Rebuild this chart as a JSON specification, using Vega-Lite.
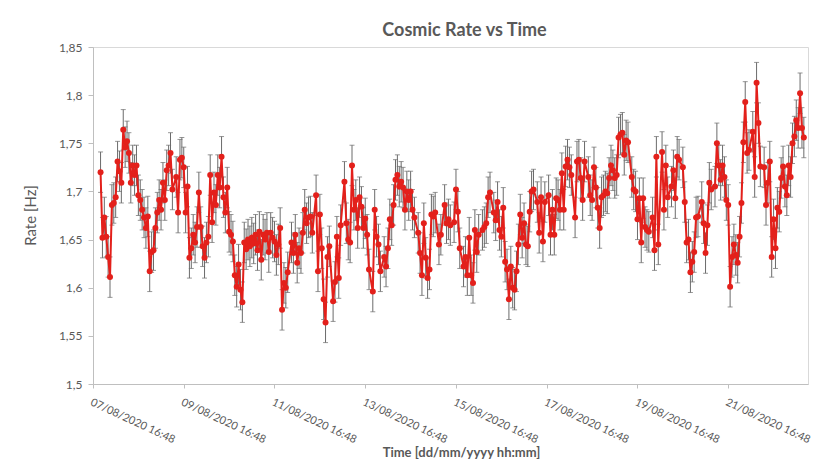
{
"$schema": "https://vega.github.io/schema/vega-lite/v6.json",
"width": 715, "height": 337,
"autosize": {"type": "none"},
"padding": {"left": 93, "top": 47, "right": 17, "bottom": 82},
"background": "white",
"title": {"text": "Cosmic Rate vs Time", "font": "Lato", "fontSize": 18, "fontWeight": "bold", "color": "#595959", "anchor": "middle", "dx": 14, "dy": 24, "offset": 11, "baseline": "alphabetic"},
"config": {"view": {"stroke": "#d9d9d9", "strokeWidth": 1}, "font": "Lato"},
"data": {"values": [
{"t":"2020-08-07T20:48","r":1.720,"e":0.021},{"t":"2020-08-07T21:48","r":1.652,"e":0.021},{"t":"2020-08-07T22:48","r":1.673,"e":0.021},{"t":"2020-08-07T23:48","r":1.653,"e":0.021},
{"t":"2020-08-08T00:48","r":1.632,"e":0.021},{"t":"2020-08-08T01:48","r":1.611,"e":0.021},{"t":"2020-08-08T02:48","r":1.686,"e":0.021},{"t":"2020-08-08T03:48","r":1.688,"e":0.021},{"t":"2020-08-08T04:48","r":1.694,"e":0.021},{"t":"2020-08-08T05:48","r":1.731,"e":0.021},{"t":"2020-08-08T06:48","r":1.721,"e":0.021},{"t":"2020-08-08T07:48","r":1.709,"e":0.021},{"t":"2020-08-08T08:48","r":1.764,"e":0.021},{"t":"2020-08-08T09:48","r":1.746,"e":0.021},{"t":"2020-08-08T10:48","r":1.752,"e":0.021},{"t":"2020-08-08T11:48","r":1.740,"e":0.021},{"t":"2020-08-08T12:48","r":1.709,"e":0.021},{"t":"2020-08-08T13:48","r":1.727,"e":0.021},{"t":"2020-08-08T14:48","r":1.717,"e":0.021},{"t":"2020-08-08T15:48","r":1.727,"e":0.021},{"t":"2020-08-08T16:48","r":1.696,"e":0.021},{"t":"2020-08-08T17:48","r":1.691,"e":0.021},{"t":"2020-08-08T18:48","r":1.681,"e":0.021},{"t":"2020-08-08T19:48","r":1.673,"e":0.021},{"t":"2020-08-08T20:48","r":1.662,"e":0.021},{"t":"2020-08-08T21:48","r":1.674,"e":0.021},{"t":"2020-08-08T22:48","r":1.617,"e":0.021},{"t":"2020-08-08T23:48","r":1.637,"e":0.021},
{"t":"2020-08-09T00:48","r":1.639,"e":0.021},{"t":"2020-08-09T01:48","r":1.662,"e":0.021},{"t":"2020-08-09T02:48","r":1.678,"e":0.021},{"t":"2020-08-09T03:48","r":1.691,"e":0.021},{"t":"2020-08-09T04:48","r":1.681,"e":0.021},{"t":"2020-08-09T05:48","r":1.709,"e":0.021},{"t":"2020-08-09T06:48","r":1.691,"e":0.021},{"t":"2020-08-09T07:48","r":1.722,"e":0.021},{"t":"2020-08-09T08:48","r":1.727,"e":0.021},{"t":"2020-08-09T09:48","r":1.740,"e":0.021},{"t":"2020-08-09T10:48","r":1.702,"e":0.021},{"t":"2020-08-09T12:48","r":1.715,"e":0.021},{"t":"2020-08-09T13:48","r":1.678,"e":0.021},{"t":"2020-08-09T14:48","r":1.733,"e":0.021},{"t":"2020-08-09T15:48","r":1.735,"e":0.021},{"t":"2020-08-09T16:48","r":1.725,"e":0.021},{"t":"2020-08-09T17:48","r":1.678,"e":0.021},{"t":"2020-08-09T18:48","r":1.705,"e":0.021},{"t":"2020-08-09T19:48","r":1.631,"e":0.021},{"t":"2020-08-09T20:48","r":1.641,"e":0.021},{"t":"2020-08-09T21:48","r":1.655,"e":0.021},{"t":"2020-08-09T22:48","r":1.647,"e":0.021},{"t":"2020-08-09T23:48","r":1.663,"e":0.021},
{"t":"2020-08-10T00:48","r":1.699,"e":0.021},{"t":"2020-08-10T01:48","r":1.663,"e":0.021},{"t":"2020-08-10T02:48","r":1.643,"e":0.021},{"t":"2020-08-10T03:48","r":1.631,"e":0.021},{"t":"2020-08-10T04:48","r":1.647,"e":0.021},{"t":"2020-08-10T05:48","r":1.653,"e":0.021},{"t":"2020-08-10T06:48","r":1.717,"e":0.021},{"t":"2020-08-10T07:48","r":1.668,"e":0.021},{"t":"2020-08-10T08:48","r":1.699,"e":0.021},{"t":"2020-08-10T09:48","r":1.686,"e":0.021},{"t":"2020-08-10T10:48","r":1.717,"e":0.021},{"t":"2020-08-10T11:48","r":1.704,"e":0.021},{"t":"2020-08-10T12:48","r":1.736,"e":0.021},{"t":"2020-08-10T13:48","r":1.694,"e":0.021},{"t":"2020-08-10T14:48","r":1.678,"e":0.021},{"t":"2020-08-10T15:48","r":1.704,"e":0.021},{"t":"2020-08-10T16:48","r":1.658,"e":0.021},{"t":"2020-08-10T17:48","r":1.655,"e":0.021},{"t":"2020-08-10T18:48","r":1.648,"e":0.021},{"t":"2020-08-10T19:48","r":1.613,"e":0.021},{"t":"2020-08-10T20:48","r":1.601,"e":0.021},{"t":"2020-08-10T21:48","r":1.624,"e":0.021},{"t":"2020-08-10T22:48","r":1.598,"e":0.021},{"t":"2020-08-10T23:48","r":1.585,"e":0.021},
{"t":"2020-08-11T00:48","r":1.647,"e":0.021},{"t":"2020-08-11T01:48","r":1.640,"e":0.021},{"t":"2020-08-11T02:48","r":1.650,"e":0.021},{"t":"2020-08-11T03:48","r":1.643,"e":0.021},{"t":"2020-08-11T04:48","r":1.652,"e":0.021},{"t":"2020-08-11T05:48","r":1.646,"e":0.021},{"t":"2020-08-11T06:48","r":1.655,"e":0.021},{"t":"2020-08-11T07:48","r":1.639,"e":0.021},{"t":"2020-08-11T08:48","r":1.658,"e":0.021},{"t":"2020-08-11T09:48","r":1.629,"e":0.021},{"t":"2020-08-11T10:48","r":1.655,"e":0.021},{"t":"2020-08-11T11:48","r":1.650,"e":0.021},{"t":"2020-08-11T12:48","r":1.657,"e":0.021},{"t":"2020-08-11T13:48","r":1.637,"e":0.021},{"t":"2020-08-11T14:48","r":1.657,"e":0.021},{"t":"2020-08-11T15:48","r":1.652,"e":0.021},{"t":"2020-08-11T16:48","r":1.648,"e":0.021},{"t":"2020-08-11T17:48","r":1.634,"e":0.021},{"t":"2020-08-11T18:48","r":1.645,"e":0.021},{"t":"2020-08-11T19:48","r":1.662,"e":0.021},{"t":"2020-08-11T20:48","r":1.577,"e":0.021},{"t":"2020-08-11T21:48","r":1.605,"e":0.021},{"t":"2020-08-11T22:48","r":1.600,"e":0.021},{"t":"2020-08-11T23:48","r":1.616,"e":0.021},
{"t":"2020-08-12T01:48","r":1.647,"e":0.021},{"t":"2020-08-12T02:48","r":1.636,"e":0.021},{"t":"2020-08-12T03:48","r":1.655,"e":0.021},{"t":"2020-08-12T04:48","r":1.626,"e":0.021},{"t":"2020-08-12T05:48","r":1.641,"e":0.021},{"t":"2020-08-12T06:48","r":1.636,"e":0.021},{"t":"2020-08-12T07:48","r":1.657,"e":0.021},{"t":"2020-08-12T08:48","r":1.681,"e":0.021},{"t":"2020-08-12T09:48","r":1.667,"e":0.021},{"t":"2020-08-12T10:48","r":1.673,"e":0.021},{"t":"2020-08-12T11:48","r":1.674,"e":0.021},{"t":"2020-08-12T12:48","r":1.657,"e":0.021},{"t":"2020-08-12T14:48","r":1.696,"e":0.021},{"t":"2020-08-12T15:48","r":1.617,"e":0.021},{"t":"2020-08-12T16:48","r":1.676,"e":0.021},{"t":"2020-08-12T17:48","r":1.641,"e":0.021},{"t":"2020-08-12T18:48","r":1.588,"e":0.021},{"t":"2020-08-12T19:48","r":1.564,"e":0.021},{"t":"2020-08-12T20:48","r":1.632,"e":0.021},{"t":"2020-08-12T21:48","r":1.643,"e":0.021},{"t":"2020-08-12T23:48","r":1.586,"e":0.021},
{"t":"2020-08-13T00:48","r":1.606,"e":0.021},{"t":"2020-08-13T01:48","r":1.653,"e":0.021},{"t":"2020-08-13T02:48","r":1.610,"e":0.021},{"t":"2020-08-13T03:48","r":1.665,"e":0.021},{"t":"2020-08-13T05:48","r":1.710,"e":0.021},{"t":"2020-08-13T06:48","r":1.667,"e":0.021},{"t":"2020-08-13T07:48","r":1.650,"e":0.021},{"t":"2020-08-13T08:48","r":1.647,"e":0.021},{"t":"2020-08-13T09:48","r":1.727,"e":0.021},{"t":"2020-08-13T10:48","r":1.681,"e":0.021},{"t":"2020-08-13T11:48","r":1.691,"e":0.021},{"t":"2020-08-13T12:48","r":1.662,"e":0.021},{"t":"2020-08-13T13:48","r":1.694,"e":0.021},{"t":"2020-08-13T14:48","r":1.684,"e":0.021},{"t":"2020-08-13T15:48","r":1.662,"e":0.021},{"t":"2020-08-13T16:48","r":1.672,"e":0.021},{"t":"2020-08-13T17:48","r":1.655,"e":0.021},{"t":"2020-08-13T18:48","r":1.619,"e":0.021},{"t":"2020-08-13T20:48","r":1.596,"e":0.021},{"t":"2020-08-13T21:48","r":1.681,"e":0.021},{"t":"2020-08-13T22:48","r":1.653,"e":0.021},{"t":"2020-08-13T23:48","r":1.645,"e":0.021},
{"t":"2020-08-14T00:48","r":1.617,"e":0.021},{"t":"2020-08-14T02:48","r":1.632,"e":0.021},{"t":"2020-08-14T03:48","r":1.622,"e":0.021},{"t":"2020-08-14T04:48","r":1.641,"e":0.021},{"t":"2020-08-14T05:48","r":1.671,"e":0.021},{"t":"2020-08-14T06:48","r":1.665,"e":0.021},{"t":"2020-08-14T07:48","r":1.686,"e":0.021},{"t":"2020-08-14T08:48","r":1.712,"e":0.021},{"t":"2020-08-14T09:48","r":1.717,"e":0.021},{"t":"2020-08-14T10:48","r":1.705,"e":0.021},{"t":"2020-08-14T11:48","r":1.710,"e":0.021},{"t":"2020-08-14T12:48","r":1.704,"e":0.021},{"t":"2020-08-14T13:48","r":1.681,"e":0.021},{"t":"2020-08-14T14:48","r":1.700,"e":0.021},{"t":"2020-08-14T15:48","r":1.691,"e":0.021},{"t":"2020-08-14T16:48","r":1.700,"e":0.021},{"t":"2020-08-14T17:48","r":1.681,"e":0.021},{"t":"2020-08-14T18:48","r":1.673,"e":0.021},{"t":"2020-08-14T20:48","r":1.657,"e":0.021},{"t":"2020-08-14T21:48","r":1.636,"e":0.021},{"t":"2020-08-14T22:48","r":1.613,"e":0.021},{"t":"2020-08-14T23:48","r":1.667,"e":0.021},
{"t":"2020-08-15T00:48","r":1.631,"e":0.021},{"t":"2020-08-15T01:48","r":1.610,"e":0.021},{"t":"2020-08-15T02:48","r":1.619,"e":0.021},{"t":"2020-08-15T03:48","r":1.676,"e":0.021},{"t":"2020-08-15T04:48","r":1.674,"e":0.021},{"t":"2020-08-15T05:48","r":1.678,"e":0.021},{"t":"2020-08-15T07:48","r":1.645,"e":0.021},{"t":"2020-08-15T08:48","r":1.655,"e":0.021},{"t":"2020-08-15T10:48","r":1.686,"e":0.021},{"t":"2020-08-15T11:48","r":1.667,"e":0.021},{"t":"2020-08-15T12:48","r":1.671,"e":0.021},{"t":"2020-08-15T13:48","r":1.665,"e":0.021},{"t":"2020-08-15T15:48","r":1.668,"e":0.021},{"t":"2020-08-15T16:48","r":1.702,"e":0.021},{"t":"2020-08-15T17:48","r":1.679,"e":0.021},{"t":"2020-08-15T18:48","r":1.641,"e":0.021},{"t":"2020-08-15T20:48","r":1.622,"e":0.021},{"t":"2020-08-15T21:48","r":1.632,"e":0.021},{"t":"2020-08-15T22:48","r":1.613,"e":0.021},{"t":"2020-08-15T23:48","r":1.652,"e":0.021},
{"t":"2020-08-16T00:48","r":1.613,"e":0.021},{"t":"2020-08-16T01:48","r":1.605,"e":0.021},{"t":"2020-08-16T02:48","r":1.660,"e":0.021},{"t":"2020-08-16T03:48","r":1.637,"e":0.021},{"t":"2020-08-16T04:48","r":1.655,"e":0.021},{"t":"2020-08-16T06:48","r":1.660,"e":0.021},{"t":"2020-08-16T07:48","r":1.663,"e":0.021},{"t":"2020-08-16T08:48","r":1.667,"e":0.021},{"t":"2020-08-16T09:48","r":1.694,"e":0.021},{"t":"2020-08-16T10:48","r":1.699,"e":0.021},{"t":"2020-08-16T12:48","r":1.678,"e":0.021},{"t":"2020-08-16T13:48","r":1.670,"e":0.021},{"t":"2020-08-16T14:48","r":1.689,"e":0.021},{"t":"2020-08-16T15:48","r":1.660,"e":0.021},{"t":"2020-08-16T16:48","r":1.653,"e":0.021},{"t":"2020-08-16T17:48","r":1.683,"e":0.021},{"t":"2020-08-16T18:48","r":1.627,"e":0.021},{"t":"2020-08-16T19:48","r":1.619,"e":0.021},{"t":"2020-08-16T20:48","r":1.588,"e":0.021},{"t":"2020-08-16T21:48","r":1.622,"e":0.021},{"t":"2020-08-16T22:48","r":1.600,"e":0.021},{"t":"2020-08-16T23:48","r":1.598,"e":0.021},
{"t":"2020-08-17T00:48","r":1.617,"e":0.021},{"t":"2020-08-17T01:48","r":1.645,"e":0.021},{"t":"2020-08-17T02:48","r":1.676,"e":0.021},{"t":"2020-08-17T03:48","r":1.652,"e":0.021},{"t":"2020-08-17T04:48","r":1.667,"e":0.021},{"t":"2020-08-17T05:48","r":1.645,"e":0.021},{"t":"2020-08-17T06:48","r":1.643,"e":0.021},{"t":"2020-08-17T07:48","r":1.679,"e":0.021},{"t":"2020-08-17T08:48","r":1.700,"e":0.021},{"t":"2020-08-17T09:48","r":1.702,"e":0.021},{"t":"2020-08-17T11:48","r":1.689,"e":0.021},{"t":"2020-08-17T12:48","r":1.657,"e":0.021},{"t":"2020-08-17T13:48","r":1.694,"e":0.021},{"t":"2020-08-17T14:48","r":1.648,"e":0.021},{"t":"2020-08-17T15:48","r":1.689,"e":0.021},{"t":"2020-08-17T17:48","r":1.696,"e":0.021},{"t":"2020-08-17T18:48","r":1.655,"e":0.021},{"t":"2020-08-17T19:48","r":1.681,"e":0.021},{"t":"2020-08-17T20:48","r":1.655,"e":0.021},{"t":"2020-08-17T21:48","r":1.693,"e":0.021},{"t":"2020-08-17T22:48","r":1.691,"e":0.021},{"t":"2020-08-17T23:48","r":1.681,"e":0.021},
{"t":"2020-08-18T00:48","r":1.719,"e":0.021},{"t":"2020-08-18T01:48","r":1.681,"e":0.021},{"t":"2020-08-18T02:48","r":1.726,"e":0.021},{"t":"2020-08-18T03:48","r":1.733,"e":0.021},{"t":"2020-08-18T04:48","r":1.725,"e":0.021},{"t":"2020-08-18T05:48","r":1.717,"e":0.021},{"t":"2020-08-18T07:48","r":1.673,"e":0.021},{"t":"2020-08-18T08:48","r":1.731,"e":0.021},{"t":"2020-08-18T09:48","r":1.733,"e":0.021},{"t":"2020-08-18T10:48","r":1.714,"e":0.021},{"t":"2020-08-18T11:48","r":1.691,"e":0.021},{"t":"2020-08-18T12:48","r":1.731,"e":0.021},{"t":"2020-08-18T14:48","r":1.715,"e":0.021},{"t":"2020-08-18T15:48","r":1.696,"e":0.021},{"t":"2020-08-18T16:48","r":1.691,"e":0.021},{"t":"2020-08-18T17:48","r":1.725,"e":0.021},{"t":"2020-08-18T18:48","r":1.704,"e":0.021},{"t":"2020-08-18T19:48","r":1.683,"e":0.021},{"t":"2020-08-18T20:48","r":1.662,"e":0.021},{"t":"2020-08-18T21:48","r":1.694,"e":0.021},{"t":"2020-08-18T22:48","r":1.696,"e":0.021},{"t":"2020-08-18T23:48","r":1.700,"e":0.021},
{"t":"2020-08-19T00:48","r":1.698,"e":0.021},{"t":"2020-08-19T01:48","r":1.714,"e":0.021},{"t":"2020-08-19T02:48","r":1.727,"e":0.021},{"t":"2020-08-19T03:48","r":1.722,"e":0.021},{"t":"2020-08-19T04:48","r":1.714,"e":0.021},{"t":"2020-08-19T05:48","r":1.717,"e":0.021},{"t":"2020-08-19T06:48","r":1.756,"e":0.021},{"t":"2020-08-19T07:48","r":1.759,"e":0.021},{"t":"2020-08-19T08:48","r":1.761,"e":0.021},{"t":"2020-08-19T09:48","r":1.738,"e":0.021},{"t":"2020-08-19T10:48","r":1.753,"e":0.021},{"t":"2020-08-19T11:48","r":1.751,"e":0.021},{"t":"2020-08-19T13:48","r":1.715,"e":0.021},{"t":"2020-08-19T14:48","r":1.702,"e":0.021},{"t":"2020-08-19T15:48","r":1.700,"e":0.021},{"t":"2020-08-19T16:48","r":1.671,"e":0.021},{"t":"2020-08-19T17:48","r":1.693,"e":0.021},{"t":"2020-08-19T18:48","r":1.647,"e":0.021},{"t":"2020-08-19T19:48","r":1.693,"e":0.021},{"t":"2020-08-19T20:48","r":1.663,"e":0.021},{"t":"2020-08-19T21:48","r":1.660,"e":0.021},{"t":"2020-08-19T22:48","r":1.658,"e":0.021},
{"t":"2020-08-20T00:48","r":1.673,"e":0.021},{"t":"2020-08-20T01:48","r":1.639,"e":0.021},{"t":"2020-08-20T02:48","r":1.736,"e":0.021},{"t":"2020-08-20T03:48","r":1.645,"e":0.021},{"t":"2020-08-20T05:48","r":1.741,"e":0.021},{"t":"2020-08-20T06:48","r":1.681,"e":0.021},{"t":"2020-08-20T07:48","r":1.727,"e":0.021},{"t":"2020-08-20T08:48","r":1.694,"e":0.021},{"t":"2020-08-20T10:48","r":1.705,"e":0.021},{"t":"2020-08-20T11:48","r":1.722,"e":0.021},{"t":"2020-08-20T12:48","r":1.693,"e":0.021},{"t":"2020-08-20T13:48","r":1.736,"e":0.021},{"t":"2020-08-20T14:48","r":1.733,"e":0.021},{"t":"2020-08-20T16:48","r":1.725,"e":0.021},{"t":"2020-08-20T17:48","r":1.689,"e":0.021},{"t":"2020-08-20T18:48","r":1.647,"e":0.021},{"t":"2020-08-20T19:48","r":1.650,"e":0.021},{"t":"2020-08-20T20:48","r":1.616,"e":0.021},{"t":"2020-08-20T21:48","r":1.627,"e":0.021},{"t":"2020-08-20T22:48","r":1.637,"e":0.021},{"t":"2020-08-20T23:48","r":1.673,"e":0.021},
{"t":"2020-08-21T00:48","r":1.674,"e":0.021},{"t":"2020-08-21T02:48","r":1.689,"e":0.021},{"t":"2020-08-21T03:48","r":1.667,"e":0.021},{"t":"2020-08-21T04:48","r":1.636,"e":0.021},{"t":"2020-08-21T05:48","r":1.665,"e":0.021},{"t":"2020-08-21T06:48","r":1.709,"e":0.021},{"t":"2020-08-21T07:48","r":1.702,"e":0.021},{"t":"2020-08-21T09:48","r":1.705,"e":0.021},{"t":"2020-08-21T10:48","r":1.750,"e":0.021},{"t":"2020-08-21T11:48","r":1.727,"e":0.021},{"t":"2020-08-21T12:48","r":1.712,"e":0.021},{"t":"2020-08-21T13:48","r":1.727,"e":0.021},{"t":"2020-08-21T14:48","r":1.715,"e":0.021},{"t":"2020-08-21T15:48","r":1.691,"e":0.021},{"t":"2020-08-21T16:48","r":1.686,"e":0.021},{"t":"2020-08-21T17:48","r":1.601,"e":0.021},{"t":"2020-08-21T18:48","r":1.632,"e":0.021},{"t":"2020-08-21T19:48","r":1.645,"e":0.021},{"t":"2020-08-21T20:48","r":1.634,"e":0.021},{"t":"2020-08-21T21:48","r":1.626,"e":0.021},{"t":"2020-08-21T22:48","r":1.653,"e":0.021},{"t":"2020-08-21T23:48","r":1.688,"e":0.021},
{"t":"2020-08-22T00:48","r":1.751,"e":0.021},{"t":"2020-08-22T01:48","r":1.793,"e":0.021},{"t":"2020-08-22T02:48","r":1.740,"e":0.021},{"t":"2020-08-22T03:48","r":1.743,"e":0.021},{"t":"2020-08-22T05:48","r":1.762,"e":0.021},{"t":"2020-08-22T06:48","r":1.715,"e":0.021},{"t":"2020-08-22T07:48","r":1.813,"e":0.021},{"t":"2020-08-22T08:48","r":1.771,"e":0.021},{"t":"2020-08-22T09:48","r":1.726,"e":0.021},{"t":"2020-08-22T11:48","r":1.725,"e":0.021},{"t":"2020-08-22T12:48","r":1.686,"e":0.021},{"t":"2020-08-22T13:48","r":1.709,"e":0.021},{"t":"2020-08-22T14:48","r":1.731,"e":0.021},{"t":"2020-08-22T15:48","r":1.632,"e":0.021},{"t":"2020-08-22T16:48","r":1.671,"e":0.021},{"t":"2020-08-22T17:48","r":1.641,"e":0.021},{"t":"2020-08-22T18:48","r":1.683,"e":0.021},{"t":"2020-08-22T19:48","r":1.679,"e":0.021},{"t":"2020-08-22T20:48","r":1.714,"e":0.021},{"t":"2020-08-22T21:48","r":1.726,"e":0.021},{"t":"2020-08-22T22:48","r":1.705,"e":0.021},{"t":"2020-08-22T23:48","r":1.696,"e":0.021},
{"t":"2020-08-23T00:48","r":1.727,"e":0.021},{"t":"2020-08-23T01:48","r":1.715,"e":0.021},{"t":"2020-08-23T02:48","r":1.750,"e":0.021},{"t":"2020-08-23T03:48","r":1.757,"e":0.021},{"t":"2020-08-23T04:48","r":1.774,"e":0.021},{"t":"2020-08-23T05:48","r":1.766,"e":0.021},{"t":"2020-08-23T06:48","r":1.802,"e":0.021},{"t":"2020-08-23T07:48","r":1.766,"e":0.021},{"t":"2020-08-23T08:48","r":1.756,"e":0.021}
]},
"encoding": {
  "x": {"field": "t", "type": "temporal",
    "scale": {"domain": [{"year": 2020, "month": 8, "date": 7, "hours": 16, "minutes": 48}, {"year": 2020, "month": 8, "date": 23, "hours": 11, "minutes": 0}], "nice": false},
    "axis": {"values": [
      {"year": 2020, "month": 8, "date": 7, "hours": 16, "minutes": 48},
      {"year": 2020, "month": 8, "date": 9, "hours": 16, "minutes": 48},
      {"year": 2020, "month": 8, "date": 11, "hours": 16, "minutes": 48},
      {"year": 2020, "month": 8, "date": 13, "hours": 16, "minutes": 48},
      {"year": 2020, "month": 8, "date": 15, "hours": 16, "minutes": 48},
      {"year": 2020, "month": 8, "date": 17, "hours": 16, "minutes": 48},
      {"year": 2020, "month": 8, "date": 19, "hours": 16, "minutes": 48},
      {"year": 2020, "month": 8, "date": 21, "hours": 16, "minutes": 48}],
      "format": "%d/%m/%Y %H:%M", "labelAngle": 25, "labelAlign": "left", "labelBaseline": "top",
      "labelFont": "Lato", "labelFontSize": 11, "labelColor": "#595959", "labelPadding": 8,
      "labelOverlap": false, "labelFlush": false, "labelBound": false, "grid": false,
      "domainColor": "#bfbfbf", "tickColor": "#bfbfbf", "tickSize": 4,
      "title": "Time [dd/mm/yyyy hh:mm]", "titleFont": "Lato", "titleFontSize": 13, "titleFontWeight": "bold",
      "titleColor": "#595959", "titleX": 368, "titleY": 68, "titleAlign": "center", "titleBaseline": "middle"}},
  "y": {"field": "r", "type": "quantitative",
    "scale": {"domain": [1.5, 1.85], "nice": false, "zero": false},
    "axis": {"values": [1.5, 1.55, 1.6, 1.65, 1.7, 1.75, 1.8, 1.85],
      "labelExpr": "replace(format(datum.value, '.2~f'), '.', ',')",
      "labelFont": "Lato", "labelFontSize": 12, "labelColor": "#595959", "labelPadding": 6,
      "grid": false, "domainColor": "#bfbfbf", "tickColor": "#bfbfbf", "tickSize": 5,
      "title": "Rate [Hz]", "titleFont": "Lato", "titleFontSize": 15, "titleFontWeight": "normal",
      "titleColor": "#595959", "titleX": -55, "titleY": 168, "titleAlign": "center"}}
},
"layer": [
  {"mark": {"type": "errorbar", "ticks": {"size": 5, "color": "#6b6b6b", "strokeWidth": 1}, "rule": {"color": "#6b6b6b", "strokeWidth": 1}},
   "encoding": {"yError": {"field": "e"}}},
  {"mark": {"type": "line", "color": "#e3201b", "strokeWidth": 2, "point": {"filled": true, "size": 36, "color": "#e3201b", "opacity": 1}}}
]
}
